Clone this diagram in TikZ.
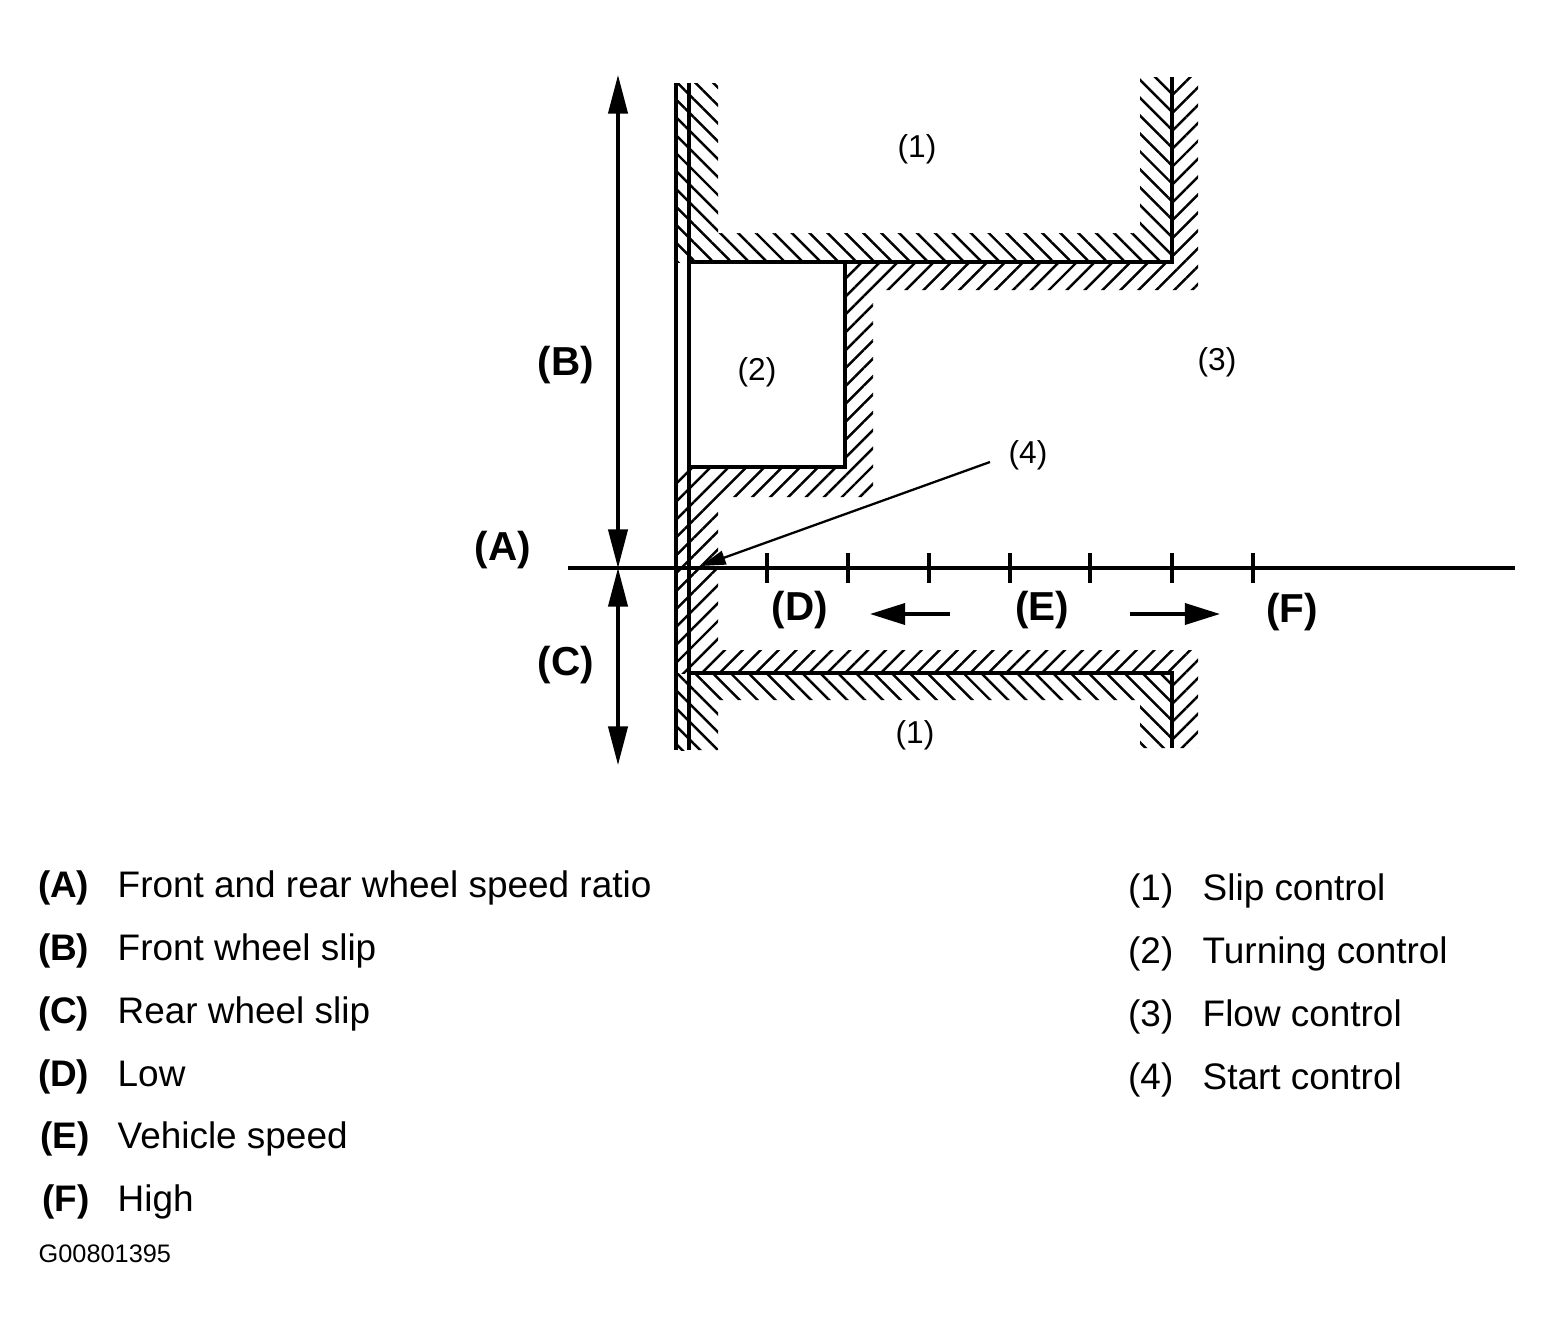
\documentclass[tikz,border=0pt]{standalone}
\usepackage{fontspec}
\setmainfont{Liberation Sans}
\usetikzlibrary{positioning}
\usetikzlibrary{arrows.meta}
\usetikzlibrary{patterns.meta}

\begin{document}
\begin{tikzpicture}[x=0.01cm, y=-0.01cm,
    wall/.style={line width=1pt},
    hatchnw/.style={pattern={Lines[angle=-45,distance=3.6pt,line width=0.7pt]}},
    hatchne/.style={pattern={Lines[angle=45,distance=3.6pt,line width=0.7pt]}},
    dim/.style={line width=0.9pt, {Triangle[length=11pt,width=5.5pt]}-{Triangle[length=11pt,width=5.5pt]}},
    dirarrow/.style={line width=1pt, -{Triangle[length=10pt,width=6pt]}},
    tag/.style={font=\bfseries\fontsize{11.5}{13}\selectfont, inner sep=0pt, anchor=base},
    num/.style={font=\fontsize{9}{11}\selectfont, inner sep=0pt},
    key/.style={font=\bfseries\fontsize{10.5}{12}\selectfont, inner sep=0pt, anchor=base east},
    keyn/.style={font=\fontsize{10.5}{12}\selectfont, inner sep=0pt, anchor=base east},
    entry/.style={font=\fontsize{10.5}{12}\selectfont, inner sep=0pt}]
  \useasboundingbox (0,0) rectangle (1551,1339);

  % hatched zones
  \path[hatchnw] (676,83) rectangle (689,262);
  \path[hatchnw] (689,83) -- (718,83) -- (718,233) -- (1140,233) -- (1140,77) -- (1172,77) -- (1172,262) -- (689,262) -- cycle;
  \path[hatchne] (1172,77) -- (1198,77) -- (1198,290) -- (873,290) -- (873,497) -- (718,497) -- (718,650) -- (1198,650) -- (1198,748) -- (1172,748) -- (1172,673) -- (689,673) -- (689,467) -- (845,467) -- (845,262) -- (1172,262) -- cycle;
  \path[hatchne] (676,467) rectangle (689,673);
  \path[hatchnw] (676,673) rectangle (689,750);
  \path[hatchnw] (689,673) -- (1172,673) -- (1172,748) -- (1140,748) -- (1140,700) -- (718,700) -- (718,750) -- (689,750) -- cycle;

  % zone borders
  \draw[wall] (676,83) -- (676,750);
  \draw[wall] (689,83) -- (689,750);
  \draw[wall] (689,262) -- (1172,262) -- (1172,77);
  \draw[wall] (689,467) -- (845,467) -- (845,262);
  \draw[wall] (689,673) -- (1172,673) -- (1172,748);

  % speed axis
  \coordinate (axL) at (568,568);
  \coordinate (axR) at (1515,568);
  \draw[line width=0.9pt] (axL) -- (axR);
  \foreach \tx in {767,848,929,1010,1090,1172,1253}
    \draw[line width=0.9pt] (\tx,553) -- (\tx,583);

  % slip arrows
  \coordinate (bTop) at (618,75);
  \coordinate (orig) at (618,568);
  \coordinate (cBot) at (618,765);
  \draw[dim] (bTop) -- (orig);
  \draw[dim] (orig) -- (cBot);

  \node[tag] (tB) at (566,375) {(B)};
  \node[tag] (tA) at (503,560) {(A)};
  \node[tag] (tC) at (566,675) {(C)};
  \node[tag] (tD) at (800,620) {(D)};
  \node[tag] (tE) at (1042,620) {(E)};
  \node[tag] (tF) at (1292,622) {(F)};

  \coordinate (lowS) at (950,614);
  \coordinate (lowE) at (870,614);
  \coordinate (highS) at (1130,614);
  \coordinate (highE) at (1220,614);
  \draw[dirarrow] (lowS) -- (lowE);
  \draw[dirarrow] (highS) -- (highE);

  % zone numbers
  \node[num] (z1) at (917,149) {(1)};
  \node[num] (z2) at (757,372) {(2)};
  \node[num] (z3) at (1217,362) {(3)};
  \node[num] (z4) at (1028,455) {(4)};
  \node[num] (z1b) at (915,735) {(1)};

  \coordinate (ldS) at (990,462);
  \coordinate (ldE) at (701,566);
  \draw[line width=0.65pt, -{Triangle[length=7pt,width=4pt]}] (ldS) -- (ldE);

  % legend
  \node[key] (kA) at (90,897) {(A)};
  \node[entry, base right=0.27cm of kA] (eA) {Front and rear wheel speed ratio};
  \node[key] (kB) at (90,960) {(B)};
  \node[entry, base right=0.27cm of kB] (eB) {Front wheel slip};
  \node[key] (kC) at (90,1023) {(C)};
  \node[entry, base right=0.27cm of kC] (eC) {Rear wheel slip};
  \node[key] (kD) at (90,1086) {(D)};
  \node[entry, base right=0.27cm of kD] (eD) {Low};
  \node[key] (kE) at (90,1148) {(E)};
  \node[entry, base right=0.27cm of kE] (eE) {Vehicle speed};
  \node[key] (kF) at (90,1211) {(F)};
  \node[entry, base right=0.27cm of kF] (eF) {High};

  \node[keyn] (k1) at (1174,900) {(1)};
  \node[entry, base right=0.28cm of k1] (e1) {Slip control};
  \node[keyn] (k2) at (1174,963) {(2)};
  \node[entry, base right=0.28cm of k2] (e2) {Turning control};
  \node[keyn] (k3) at (1174,1026) {(3)};
  \node[entry, base right=0.28cm of k3] (e3) {Flow control};
  \node[keyn] (k4) at (1174,1089) {(4)};
  \node[entry, base right=0.28cm of k4] (e4) {Start control};

  \node[font=\fontsize{7.2}{9}\selectfont, inner sep=0pt, anchor=base west] (code) at (38,1262) {G00801395};
\end{tikzpicture}
\end{document}
